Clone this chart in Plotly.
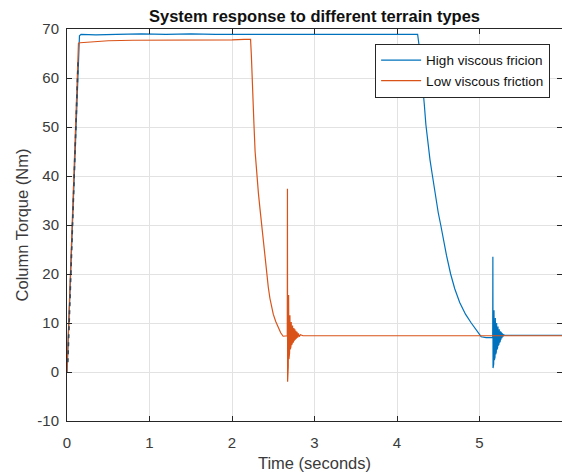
import plotly.graph_objects as go

# ---------------- data ----------------
# High viscous friction (blue)
hi_t = [0.0, 0.151, 0.17, 0.35, 0.6, 0.9, 1.2, 1.5, 1.8, 2.1, 2.4, 2.7, 3.0, 3.3, 3.6, 3.9,
        4.1, 4.25, 4.265, 4.28, 4.295, 4.31, 4.33, 4.35, 4.37, 4.40, 4.43, 4.46, 4.50, 4.53,
        4.56, 4.60, 4.65, 4.70, 4.76, 4.83, 4.90, 4.96, 5.02, 5.08, 5.158]
hi_y = [0.0, 68.6, 68.9, 68.8, 68.9, 69.0, 68.9, 69.0, 68.9, 68.9, 69.0, 68.9, 69.0, 68.9, 69.0, 68.9,
        69.0, 68.9, 67.0, 64.5, 62.0, 59.5, 54.8, 50.5, 47.0, 43.3, 40.0, 36.5, 32.5, 30.0,
        27.2, 23.8, 20.0, 17.0, 14.2, 11.8, 10.0, 8.5, 7.2, 7.0, 7.0]
hi_osc_t = [5.160, 5.162, 5.164, 5.168, 5.172, 5.176, 5.180, 5.184, 5.188, 5.192,
            5.196, 5.200, 5.204, 5.208, 5.212, 5.216, 5.220, 5.224, 5.228, 5.232,
            5.236, 5.240, 5.244, 5.248, 5.252, 5.256, 5.260, 5.266, 5.272, 5.278,
            5.285, 5.292, 5.300]
hi_osc_y = [7.0, 23.5, 0.8, 13.6, 1.6, 12.6, 2.4, 11.8, 3.0, 11.0,
            3.6, 10.5, 4.1, 10.0, 4.6, 9.6, 5.0, 9.3, 5.4, 9.0,
            5.7, 8.7, 6.0, 8.5, 6.3, 8.3, 6.6, 8.1, 6.9, 7.9,
            7.2, 7.7, 7.5]
hi_tail_t = [5.40, 6.0]
hi_tail_y = [7.5, 7.5]

# Low viscous friction (orange)
lo_t = [0.0, 0.139, 0.16, 0.3, 0.5, 0.8, 1.1, 1.4, 1.7, 2.0,
        2.15, 2.225, 2.235, 2.245, 2.255, 2.265, 2.28, 2.30, 2.32, 2.34,
        2.36, 2.38, 2.40, 2.42, 2.44, 2.46, 2.48, 2.50, 2.53, 2.56,
        2.59, 2.62, 2.64, 2.668]
lo_y = [0.0, 67.1, 67.2, 67.4, 67.6, 67.7, 67.7, 67.8, 67.7, 67.8,
        67.9, 67.9, 64.5, 61.0, 56.0, 51.0, 45.0, 40.0, 36.5, 33.2,
        29.8, 26.5, 23.0, 20.0, 17.3, 15.0, 13.2, 11.8, 10.3, 9.0,
        8.0, 7.3, 7.3, 7.4]
lo_osc_t = [2.670, 2.672, 2.674, 2.678, 2.682, 2.686, 2.690, 2.694, 2.698, 2.702,
            2.706, 2.710, 2.714, 2.718, 2.722, 2.726, 2.730, 2.734, 2.738, 2.742,
            2.746, 2.750, 2.756, 2.762, 2.768, 2.774, 2.780, 2.788, 2.796, 2.805,
            2.815, 2.830, 2.860]
lo_osc_y = [7.4, 37.4, -2.0, 23.8, 1.1, 15.7, 2.6, 13.0, 3.9, 11.6,
            4.6, 10.8, 5.1, 10.2, 5.5, 9.8, 5.8, 9.5, 6.0, 9.2,
            6.2, 9.0, 6.4, 8.7, 6.6, 8.4, 6.8, 8.2, 7.0, 7.9,
            7.2, 7.6, 7.4]
lo_tail_t = [3.0, 6.0]
lo_tail_y = [7.4, 7.4]

# dark dashed start-up ramp
ramp_t = [0.01, 0.136]
ramp_y = [2.0, 64.0]

x_ticks = [0, 1, 2, 3, 4, 5, 6]
y_ticks = [-10, 0, 10, 20, 30, 40, 50, 60, 70]

series_names = ["High viscous fricion", "Low viscous friction"]
title_text = "System response to different terrain types"
x_label = "Time (seconds)"
y_label = "Column Torque (Nm)"

# ---------------- figure ----------------
FONT = "Liberation Sans, Arial, Helvetica, sans-serif"
AX = "#262626"

fig = go.Figure()
fig.add_trace(go.Scatter(
    x=hi_t + hi_osc_t + hi_tail_t, y=hi_y + hi_osc_y + hi_tail_y,
    mode="lines", name=series_names[0],
    line=dict(color="#0072BD", width=1.2)))
fig.add_trace(go.Scatter(
    x=lo_t + lo_osc_t + lo_tail_t, y=lo_y + lo_osc_y + lo_tail_y,
    mode="lines", name=series_names[1],
    line=dict(color="#D95319", width=1.2)))
fig.add_trace(go.Scatter(
    x=ramp_t, y=ramp_y, mode="lines", showlegend=False, hoverinfo="skip",
    line=dict(color="#3a4450", width=1.6, dash="4px,4px")))

axis_common = dict(
    showline=True, linecolor=AX, linewidth=1, mirror="ticks",
    ticks="inside", ticklen=5, tickcolor=AX, tickwidth=1,
    showgrid=True, gridcolor="#e2e2e2", gridwidth=1,
    zeroline=False,
    tickfont=dict(family=FONT, size=15, color="#3a3a3a"),
)

fig.update_layout(
    width=562, height=472,
    margin=dict(l=67, r=0, t=29, b=51),
    paper_bgcolor="white", plot_bgcolor="white",
    title=dict(text="<b>" + title_text + "</b>", x=0.5, xref="paper",
               y=1 - 16 / 472, yref="container", yanchor="middle", xanchor="center",
               font=dict(family=FONT, size=16.5, color="#111111")),
    xaxis=dict(range=[0, 6], tickvals=x_ticks, ticktext=[str(v) for v in x_ticks],
               title=dict(text=x_label, standoff=8,
                          font=dict(family=FONT, size=16.5, color="#3a3a3a")),
               ticklabelstandoff=8, **axis_common),
    yaxis=dict(range=[-10, 70], tickvals=y_ticks, ticktext=[str(v) for v in y_ticks],
               title=dict(text=y_label, standoff=4,
                          font=dict(family=FONT, size=16.5, color="#3a3a3a")),
               ticklabelstandoff=4, **axis_common),
    legend=dict(x=0.976, y=0.962, xanchor="right", yanchor="top",
                bgcolor="white", bordercolor=AX, borderwidth=1,
                font=dict(family=FONT, size=13.5, color="#111111"),
                tracegroupgap=0, itemwidth=40),
    showlegend=True,
)

fig.write_html("out.html")
